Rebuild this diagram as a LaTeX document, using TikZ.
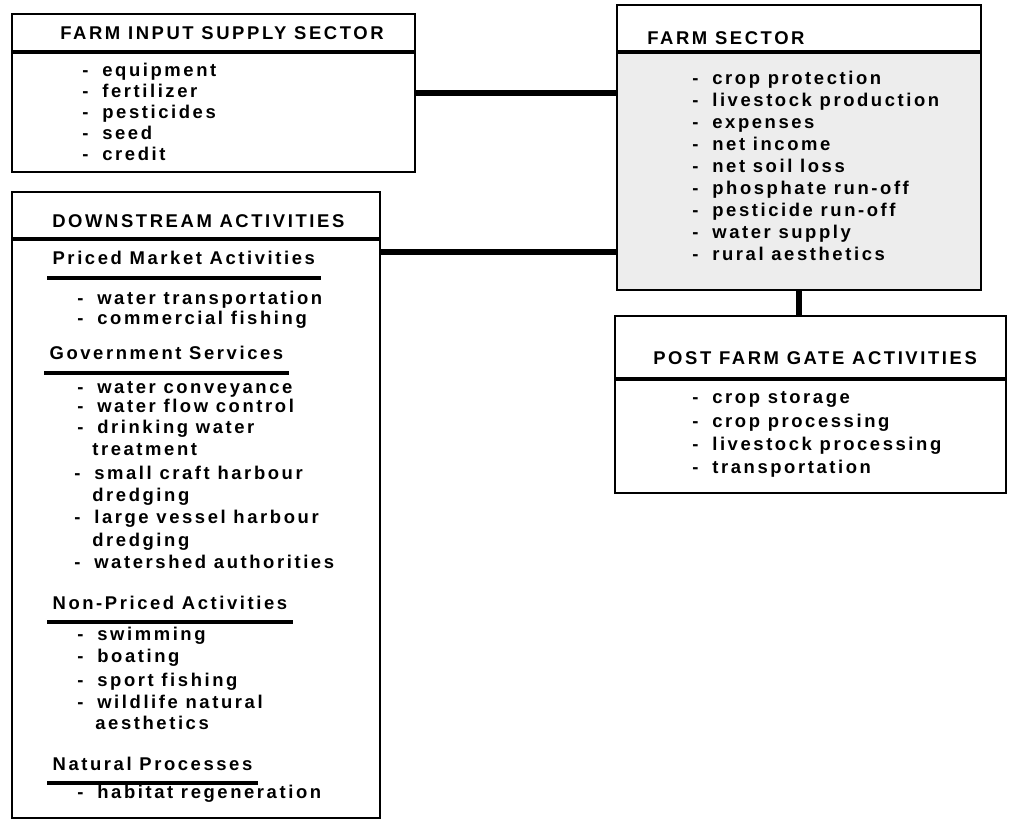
\documentclass[tikz,border=0pt]{standalone}
\usepackage{fontspec}
\newfontfamily\chartfont{Liberation Sans}[LetterSpace=14]
\usetikzlibrary{fit}

\newcommand{\bul}{-\hspace{0.75em}}

\begin{document}
\begin{tikzpicture}[x=0.02cm,y=-0.02cm]
\tikzstyle{panel}=[rectangle,draw,line width=1.1pt,inner sep=0pt]
\tikzstyle{title}=[anchor=base west,inner sep=0pt,font=\chartfont\bfseries\fontsize{10.5}{12}\selectfont]
\tikzstyle{entry}=[anchor=base west,inner sep=0pt,font=\chartfont\bfseries\fontsize{10.5}{12}\selectfont]
\tikzstyle{subhead}=[anchor=base west,inner xsep=3pt,inner ysep=7pt,text depth=0pt,font=\chartfont\bfseries\fontsize{10.5}{12}\selectfont]
\tikzstyle{rule}=[line width=2.2pt]
\tikzstyle{link}=[line width=3.2pt]

\useasboundingbox[fill=white] (0,0) rectangle (1010,820);

% shaded body of the farm sector
\fill[black!7] (617,52) rectangle (981,290);

\node[panel,fit={(12,14) (415,172)}] (input) {};
\node[panel,fit={(617,5) (981,290)}] (farm) {};
\node[panel,fit={(615,316) (1006,493)}] (post) {};
\node[panel,fit={(12,192) (380,818)}] (down) {};

\draw[rule] (input.west |- 0,52) -- (input.east |- 0,52);
\draw[rule] (farm.west |- 0,52) -- (farm.east |- 0,52);
\draw[rule] (post.west |- 0,379) -- (post.east |- 0,379);
\draw[rule] (down.west |- 0,239) -- (down.east |- 0,239);

% farm input supply sector
\node[title] (input-t) at (60,40) {FARM INPUT SUPPLY SECTOR};
\foreach \y/\t [count=\i] in {77/equipment,98/fertilizer,119/pesticides,140/seed,161/credit}
  \node[entry] (input-\i) at (82,\y) {\bul\t};

% farm sector
\node[title] (farm-t) at (647,45) {FARM SECTOR};
\foreach \y/\t [count=\i] in {85/crop protection,107/livestock production,129/expenses,
    151/net income,173/net soil loss,195/phosphate run-off,217/pesticide run-off,
    239/water supply,261/rural aesthetics}
  \node[entry] (farm-\i) at (692,\y) {\bul\t};

% post farm gate activities
\node[title] (post-t) at (653,365) {POST FARM GATE ACTIVITIES};
\foreach \y/\t [count=\i] in {403/crop storage,427/crop processing,450/livestock processing,473/transportation}
  \node[entry] (post-\i) at (692,\y) {\bul\t};

% downstream activities
\node[title] (down-t) at (52,228) {DOWNSTREAM ACTIVITIES};

\node[subhead] (sub1) at (47,265) {Priced Market Activities};
\node[subhead] (sub2) at (44,360) {Government Services};
\node[subhead] (sub3) at (47,609) {Non-Priced Activities};
\node[subhead] (sub4) at (47,770) {Natural Processes};
\foreach \s in {sub1,sub2,sub3,sub4}
  \draw[rule] (\s.south west) -- (\s.south east);

\foreach \x/\y/\t [count=\i] in {77/305/\bul water transportation,77/325/\bul commercial fishing,
    77/394/\bul water conveyance,77/413/\bul water flow control,77/434/\bul drinking water,
    92/456/treatment,74/479/\bul small craft harbour,92/501/dredging,
    74/523/\bul large vessel harbour,92/546/dredging,74/568/\bul watershed authorities,
    77/640/\bul swimming,77/662/\bul boating,77/686/\bul sport fishing,77/708/\bul wildlife natural,
    95/729/aesthetics,77/798/\bul habitat regeneration}
  \node[entry] (down-\i) at (\x,\y) {\t};

% connectors
\coordinate (dlink) at (down.east |- 0,252);
\draw[link] (input.east) -- (input.east -| farm.west);
\draw[link] (dlink) -- (dlink -| farm.west);
\draw[link] (farm.south) -- (farm.south |- post.north);

\end{tikzpicture}
\end{document}
